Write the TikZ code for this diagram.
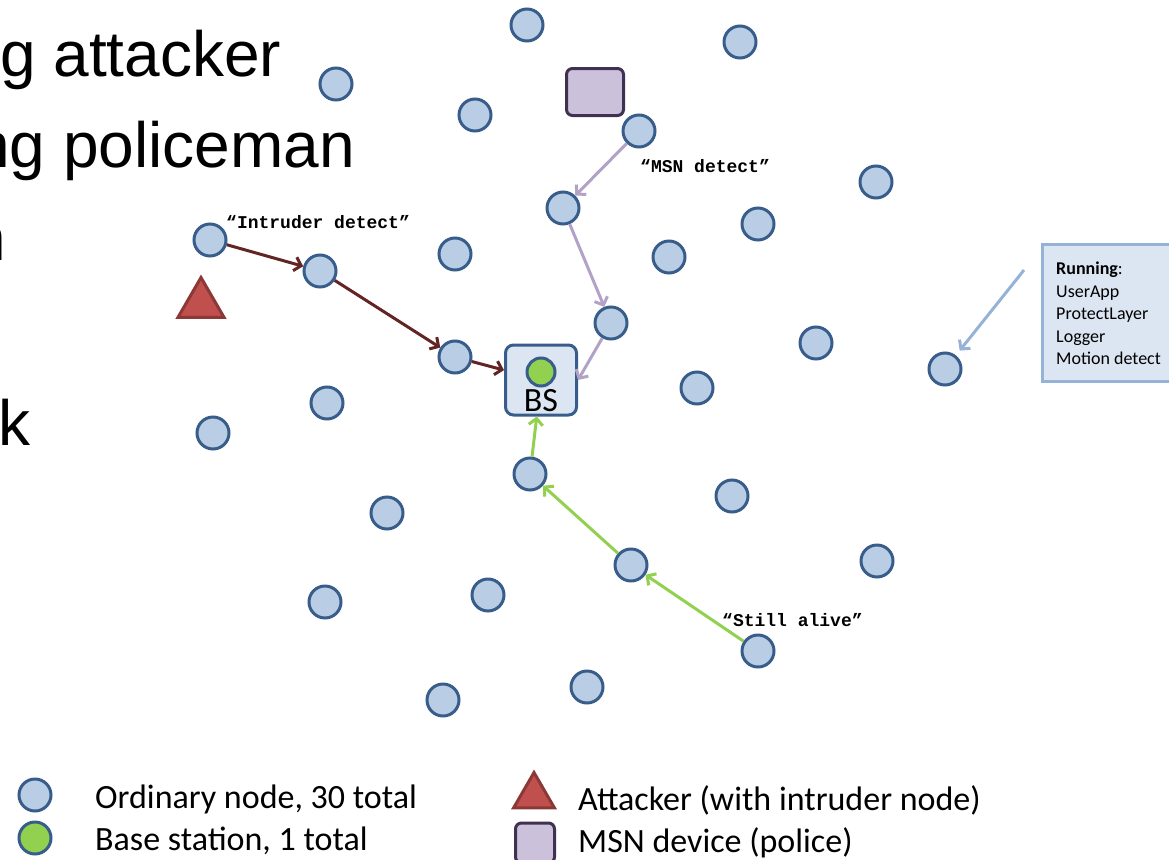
\documentclass[tikz,border=0pt]{standalone}
\usepackage{fontspec}
\setmainfont{Carlito}
\newfontfamily\slidefont{Liberation Sans}
\newfontfamily\msgfont{Liberation Mono}
\usetikzlibrary{shapes.geometric,arrows.meta}

\definecolor{nodeline}{HTML}{385D8A}
\definecolor{nodefill}{HTML}{B9CDE5}
\definecolor{bsfill}{HTML}{DCE6F2}
\definecolor{bsgreen}{HTML}{92D050}
\definecolor{attfill}{HTML}{C0504D}
\definecolor{attline}{HTML}{8C3836}
\definecolor{msnfill}{HTML}{CCC1DA}
\definecolor{msnline}{HTML}{403152}
\definecolor{redpath}{HTML}{632523}
\definecolor{purplepath}{HTML}{B3A2C7}
\definecolor{runline}{HTML}{95B3D7}

\begin{document}
\begin{tikzpicture}
[x=1pt,y=-1pt,every node/.style={inner sep=0pt},
ord/.style={circle,draw=nodeline,fill=nodefill,line width=3pt,minimum size=32pt},
base/.style={circle,draw=nodeline,fill=bsgreen,line width=3pt,minimum size=28pt},
attacker/.style={regular polygon,regular polygon sides=3,draw=attline,fill=attfill,line width=3pt},
msn/.style={rectangle,rounded corners=6pt,draw=msnline,fill=msnfill,line width=3pt},
hop/.style={line width=3pt,-{Straight Barb[length=6.5pt,width=14pt]}},
slide/.style={font=\slidefont\fontsize{64}{70}\selectfont},
msg/.style={font=\msgfont\bfseries\fontsize{18}{20}\selectfont,anchor=base west},
legend/.style={font=\fontsize{34}{36}\selectfont,anchor=base west}]
\useasboundingbox (0,0) rectangle (1169,859);
\clip (0,0) rectangle (1169,859);

% slide text cut at the left edge
\node[slide,anchor=base west] (t1) at (0,76) {g attacker};
\node[slide,anchor=base west] (t2) at (-26,167) {ng policeman};
\node[slide,anchor=base east] (t3) at (6,260) {n};
\node[slide,anchor=base west] (t4) at (-2,445) {k};

% ordinary nodes
\node[ord] (n1) at (527,25) {};
\node[ord] (n2) at (740,42) {};
\node[ord] (n3) at (336,84) {};
\node[ord] (n4) at (475,115) {};
\node[ord] (n5) at (639,131) {};
\node[ord] (n6) at (876,182) {};
\node[ord] (n7) at (563,208) {};
\node[ord] (n8) at (758,224) {};
\node[ord] (n9) at (210,240) {};
\node[ord] (n10) at (455,254) {};
\node[ord] (n11) at (669,257) {};
\node[ord] (n12) at (320,271) {};
\node[ord] (n13) at (611,323) {};
\node[ord] (n14) at (816,343) {};
\node[ord] (n15) at (455,357) {};
\node[ord] (n16) at (945,369) {};
\node[ord] (n17) at (697,388) {};
\node[ord] (n18) at (327,403) {};
\node[ord] (n19) at (213,433) {};
\node[ord] (n20) at (530,474) {};
\node[ord] (n21) at (732,496) {};
\node[ord] (n22) at (387,513) {};
\node[ord] (n23) at (877,561) {};
\node[ord] (n24) at (631,565) {};
\node[ord] (n25) at (488,595) {};
\node[ord] (n26) at (325,602) {};
\node[ord] (n27) at (758,651) {};
\node[ord] (n28) at (587,687) {};
\node[ord] (n29) at (443,700) {};

% base station, attacker, police device
\node[rectangle,rounded corners=8pt,draw=nodeline,fill=bsfill,line width=3pt,minimum width=71pt,minimum height=70pt] (bs) at (541,380) {};
\node[base] (bsdot) at (541,372) {};
\node[font=\fontsize{34}{36}\selectfont,anchor=base] (bslabel) at (541,411) {BS};
\node[attacker,minimum size=53pt] (att) at (201,304) {};
\node[msn,minimum width=57pt,minimum height=47pt] (dev) at (595,92) {};

% messages
\foreach \from/\to in {n9/n12,n12/n15,n15/bs}
\draw[hop,redpath] (\from) -- (\to);
\foreach \from/\to in {n5/n7,n7/n13,n13/bs.east}
\draw[hop,purplepath] (\from) -- (\to);
\foreach \from/\to in {n27/n24,n24/n20,n20/bs}
\draw[hop,bsgreen] (\from) -- (\to);
\node[msg] (m1) at (226,228) {“Intruder detect”};
\node[msg] (m2) at (640,172) {“MSN detect”};
\node[msg] (m3) at (722,626) {“Still alive”};

% what runs on a node
\node[rectangle,draw=runline,fill=bsfill,line width=3pt,minimum width=140pt,minimum height=137pt] (run) at (1112,312.5) {};
\node[font=\fontsize{18}{22.5}\selectfont,align=left,anchor=north west] (runtext) at (1056,262) {\textbf{Running}:\\UserApp\\ProtectLayer\\Logger\\Motion detect};
\coordinate (runtail) at (1024,270);
\draw[hop,runline,shorten >=6pt] (runtail) -- (n16);

% legend
\node[ord] (lord) at (35,795) {};
\node[base,minimum size=32pt] (lbase) at (35,838) {};
\node[legend] (lordtext) at (95,808) {Ordinary node, 30 total};
\node[legend] (lbasetext) at (95,850) {Base station, 1 total};
\node[attacker,minimum size=47pt] (latt) at (534,796) {};
\node[msn,minimum width=39pt,minimum height=40pt] (ldev) at (535,843) {};
\node[legend] (latttext) at (578,810) {Attacker (with intruder node)};
\node[legend] (ldevtext) at (578,852) {MSN device (police)};
\end{tikzpicture}
\end{document}
